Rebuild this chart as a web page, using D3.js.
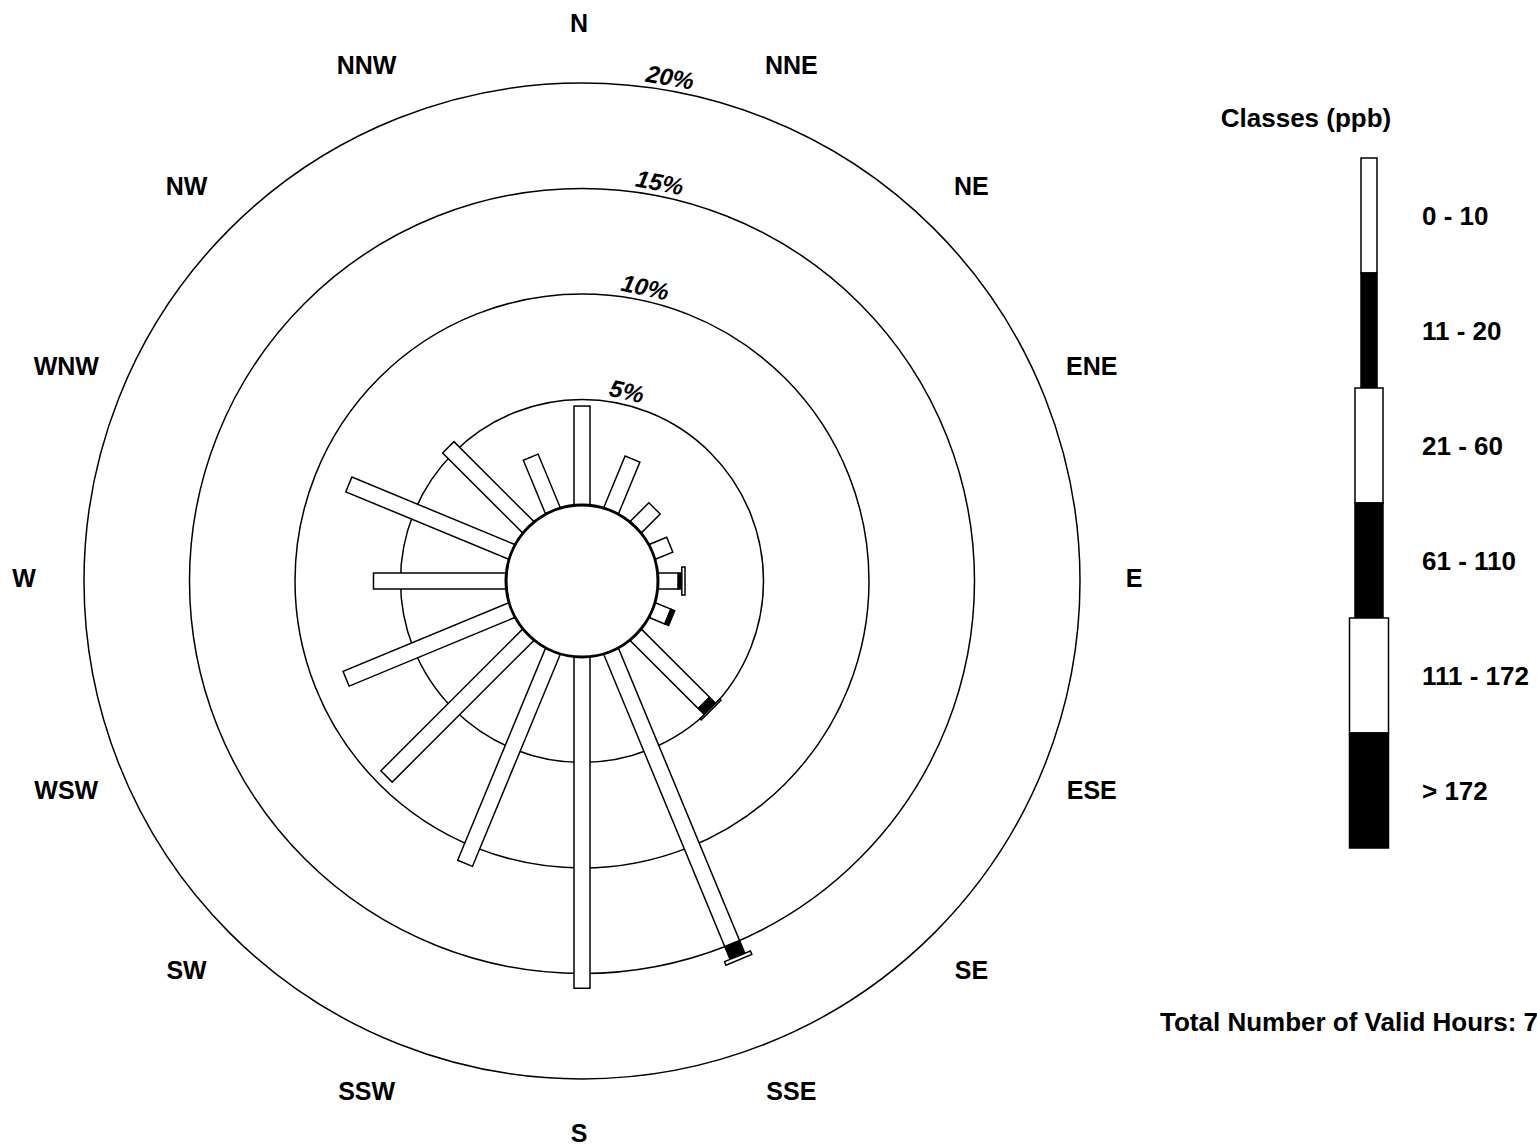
<!DOCTYPE html>
<html>
<head>
<meta charset="utf-8">
<script src="https://cdn.jsdelivr.net/npm/d3@7"></script>
<style>
  body { margin: 0; background: #fff; }
  svg text { font-family: "Liberation Sans", Arial, sans-serif; font-weight: bold; fill: #000; }
</style>
</head>
<body>
<div id="rose"></div>
<script>
// 1: DATA
const directions = ["N", "NNE", "NE", "ENE", "E", "ESE", "SE", "SSE",
                    "S", "SSW", "SW", "WSW", "W", "WNW", "NW", "NNW"];
const classLabels = ["0 - 10", "11 - 20", "21 - 60", "61 - 110", "111 - 172", "> 172"];
// frequency (%) of each class per direction
const class0 = [4.69, 2.65, 1.26, 0.9, 0.96, 0.8, 4.57, 15.0, 15.7, 10.88, 9.5, 8.5, 6.28, 8.36, 5.36, 2.75];
const class1 = [0, 0, 0, 0, 0.17, 0.2, 0.4, 0.65, 0, 0, 0, 0, 0, 0, 0, 0];
const class2 = [0, 0, 0, 0, 0.15, 0, 0.08, 0.18, 0, 0, 0, 0, 0, 0, 0, 0];
const class3 = [0, 0, 0, 0, 0, 0, 0, 0, 0, 0, 0, 0, 0, 0, 0, 0];
const class4 = [0, 0, 0, 0, 0, 0, 0, 0, 0, 0, 0, 0, 0, 0, 0, 0];
const class5 = [0, 0, 0, 0, 0, 0, 0, 0, 0, 0, 0, 0, 0, 0, 0, 0];
const ringTicks = [5, 10, 15, 20];
const totalLabel = "Total Number of Valid Hours: 7";

const series = [class0, class1, class2, class3, class4, class5];
const classFill = ["#fff", "#000", "#fff", "#000", "#fff", "#000"];
const classWidth = [16, 16, 28, 28, 39, 39];

// 2: SVG
const W = 1537, H = 1147;
const cx = 582, cy = 581;
const svg = d3.select("#rose").append("svg")
    .attr("width", W).attr("height", H);

const r = d3.scaleLinear().domain([0, 20]).range([76, 498]);

const g = svg.append("g").attr("transform", `translate(${cx},${cy})`);

// rings
g.selectAll("circle.ring")
    .data(ringTicks)
    .enter().append("circle")
    .attr("class", "ring")
    .attr("r", d => r(d))
    .attr("fill", "none")
    .attr("stroke", "#000")
    .attr("stroke-width", 1.5);

// ring labels (follow the ring a little right of north)
g.selectAll("text.ringLabel")
    .data(ringTicks)
    .enter().append("text")
    .attr("class", "ringLabel")
    .attr("font-size", 24)
    .attr("font-style", "italic")
    .attr("text-anchor", "middle")
    .attr("transform", d => {
        const a = 15.2 - 0.0106 * r(d);
        return `rotate(${a}) translate(0,${-r(d) - 5})`;
    })
    .text(d => d + "%");

// 3: STACKED BARS
const stacks = [];
directions.forEach((dir, i) => {
    let start = 0;
    series.forEach((s, k) => {
        const v = s[i];
        if (v > 0) {
            stacks.push({ i, k, r0: start, r1: start + v });
        }
        start += v;
    });
});

g.selectAll("rect.bar")
    .data(stacks)
    .enter().append("rect")
    .attr("class", "bar")
    .attr("transform", d => `rotate(${d.i * 22.5})`)
    .attr("x", d => -classWidth[d.k] / 2)
    .attr("y", d => -r(d.r1))
    .attr("width", d => classWidth[d.k])
    .attr("height", d => r(d.r1) - r(d.r0))
    .attr("fill", d => classFill[d.k])
    .attr("stroke", "#000")
    .attr("stroke-width", 1.5);

// inner calm circle
g.append("circle")
    .attr("r", r(0))
    .attr("fill", "#fff")
    .attr("stroke", "#000")
    .attr("stroke-width", 3);

// direction labels
const labelR = 555;
g.selectAll("text.dir")
    .data(directions)
    .enter().append("text")
    .attr("class", "dir")
    .attr("font-size", 25)
    .attr("text-anchor", "middle")
    .attr("dominant-baseline", "central")
    .attr("x", (d, i) => labelR * Math.sin(i * Math.PI / 8) - 3)
    .attr("y", (d, i) => -labelR * Math.cos(i * Math.PI / 8) - 3)
    .text(d => d);

// 4: LEGEND
const legX = 1369, legTop = 158, segH = 115;
svg.append("text")
    .attr("x", 1306).attr("y", 118)
    .attr("font-size", 26)
    .attr("text-anchor", "middle")
    .attr("dominant-baseline", "central")
    .text("Classes (ppb)");

const leg = svg.append("g");
leg.selectAll("rect")
    .data(classLabels)
    .enter().append("rect")
    .attr("x", (d, k) => legX - classWidth[k] / 2)
    .attr("y", (d, k) => legTop + k * segH)
    .attr("width", (d, k) => classWidth[k])
    .attr("height", segH)
    .attr("fill", (d, k) => classFill[k])
    .attr("stroke", "#000")
    .attr("stroke-width", 1.5);

leg.selectAll("text")
    .data(classLabels)
    .enter().append("text")
    .attr("x", 1422)
    .attr("y", (d, k) => legTop + k * segH + segH / 2)
    .attr("font-size", 26)
    .attr("dominant-baseline", "central")
    .text(d => d);

svg.append("text")
    .attr("x", 1160).attr("y", 1022)
    .attr("font-size", 26)
    .attr("dominant-baseline", "central")
    .text(totalLabel);
</script>
</body>
</html>
